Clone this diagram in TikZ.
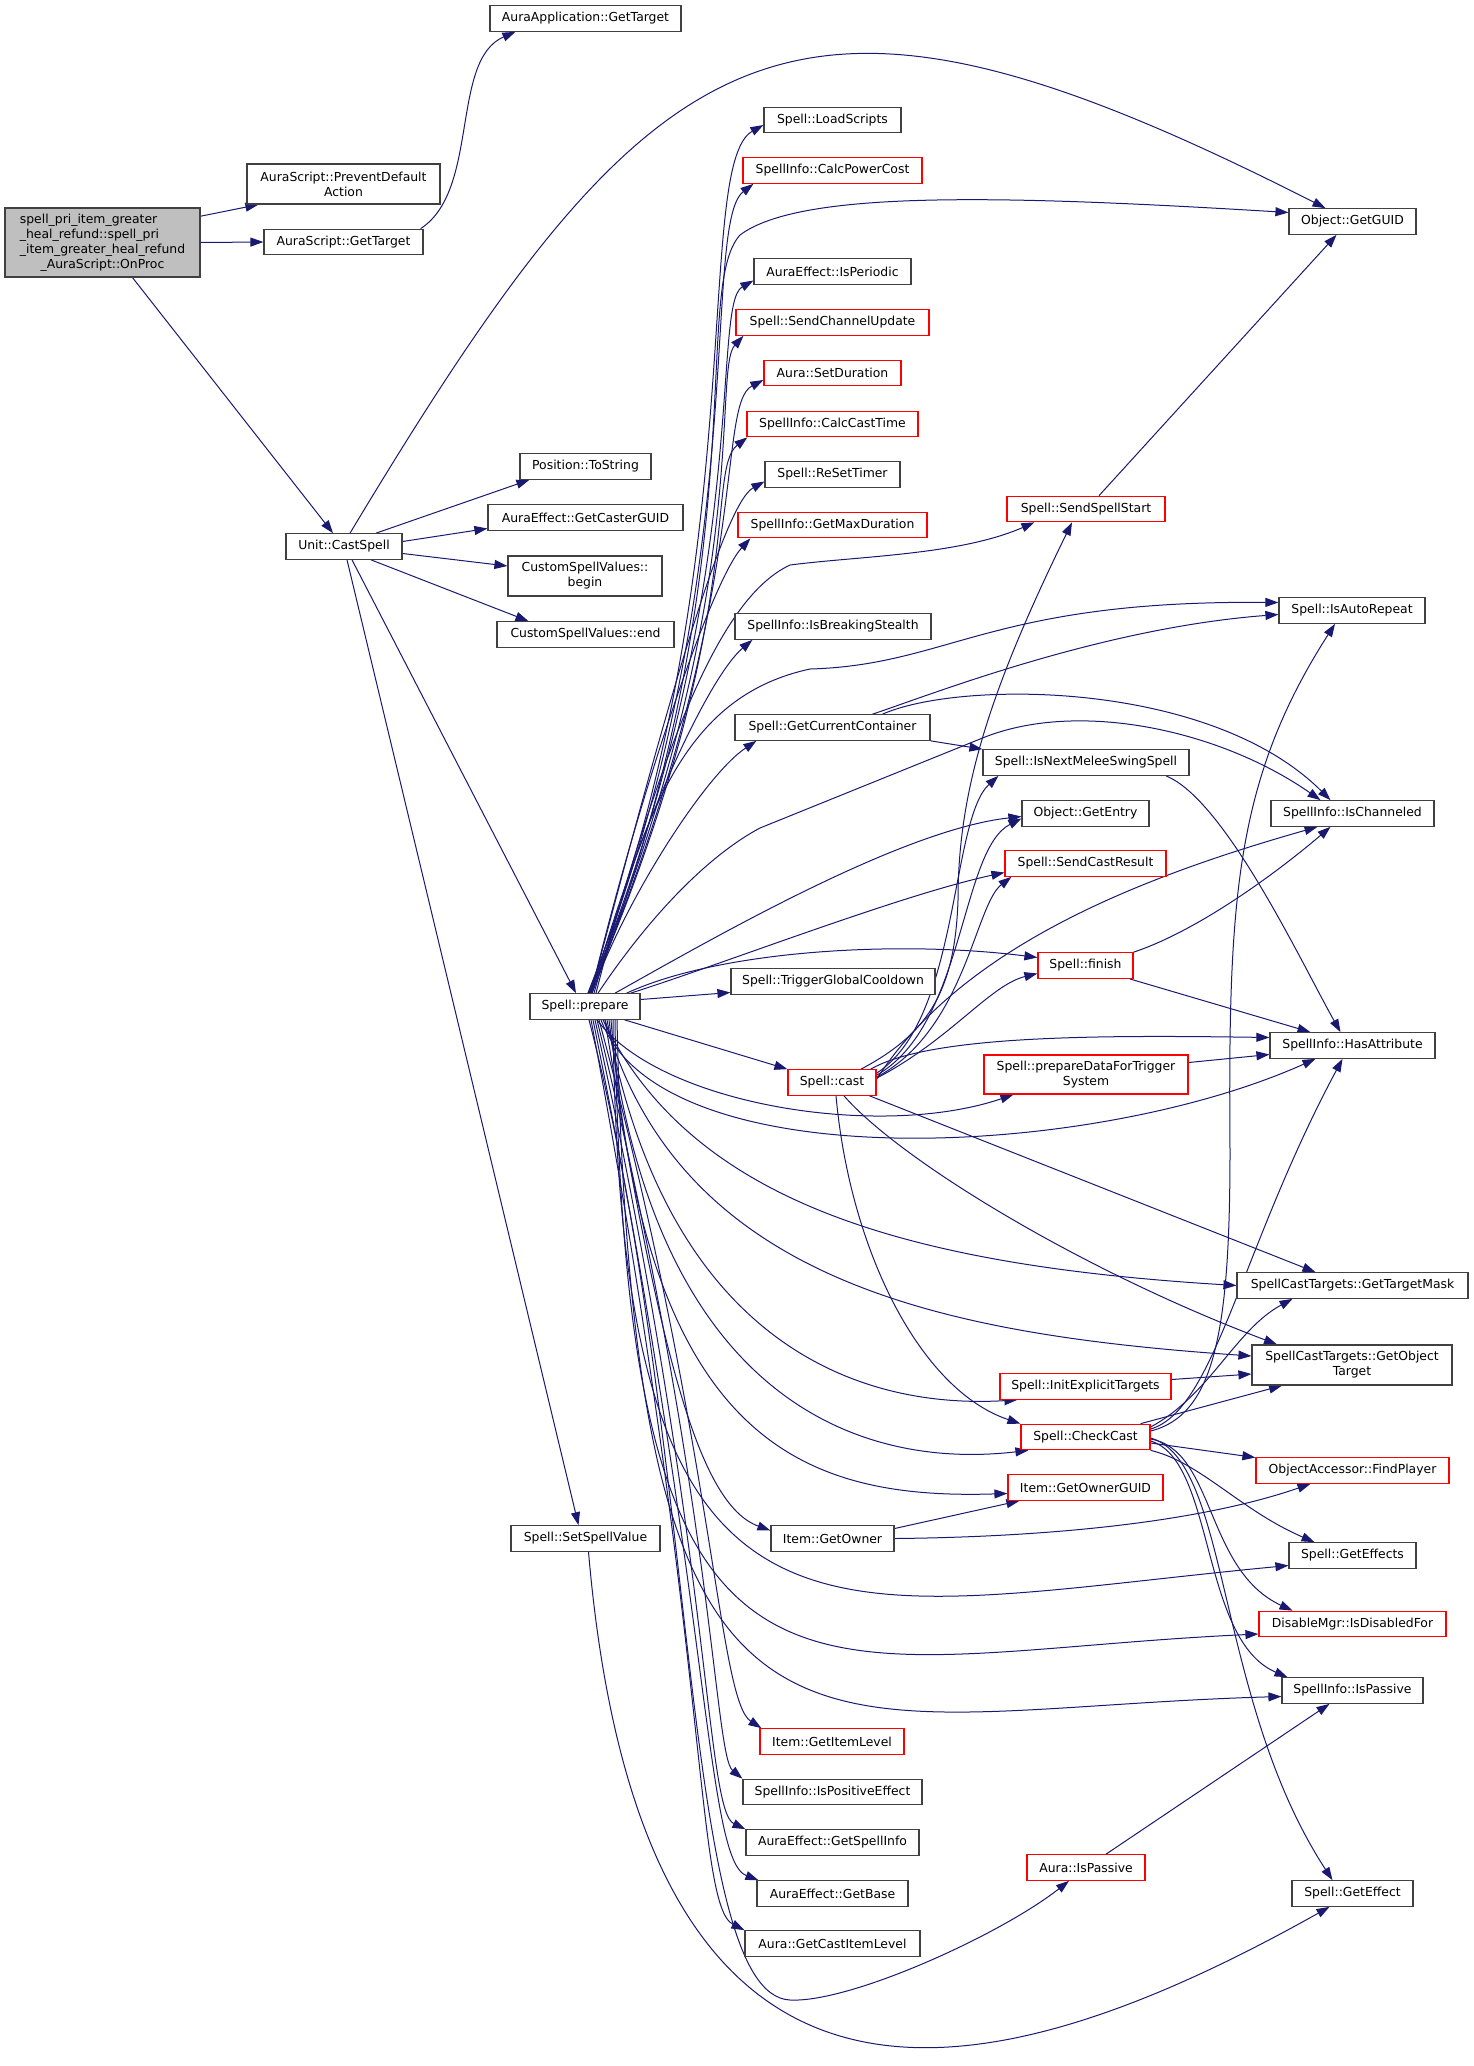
\documentclass[tikz,border=0pt]{standalone}
\usepackage{fontspec}
\setmainfont{DejaVu Sans}
\usetikzlibrary{arrows.meta}

\definecolor{edgeblue}{HTML}{191970}
\definecolor{boxgray}{HTML}{404040}
\definecolor{rootfill}{HTML}{BFBFBF}

\pgfdeclarelayer{edges}
\pgfsetlayers{edges,main}

\tikzset{
  fn/.style={draw=boxgray, line width=1.2pt, fill=white, inner sep=0pt,
    minimum height=25.5pt, align=center, font=\fontsize{12.4}{15}\selectfont},
  fnred/.style={fn, draw=red},
  rootfn/.style={fn, fill=rootfill},
  call/.style={draw=edgeblue, line width=1pt, -{Triangle[length=13pt,width=9pt]}}
}

\begin{document}
\begin{tikzpicture}[x=1pt, y=1pt]

\useasboundingbox (0,0) rectangle (1473,-2066);

% caller
\node[rootfn, minimum width=195pt, minimum height=69pt] (onproc) at (102.5,-242.5)
  {\begin{tabular}{@{}l@{}}spell\_pri\_item\_greater\\\_heal\_refund::spell\_pri\\\_item\_greater\_heal\_refund\\\multicolumn{1}{@{}c@{}}{\_AuraScript::OnProc}\end{tabular}};

% second column
\node[fn, minimum width=193pt, minimum height=40pt] (prevent) at (343.5,-184) {AuraScript::PreventDefault\\Action};
\node[fn, minimum width=159pt] (asgettarget) at (343.5,-242) {AuraScript::GetTarget};
\node[fn, minimum width=116pt] (castspell) at (344,-546.5) {Unit::CastSpell};

% third column
\node[fn, minimum width=191pt] (aagettarget) at (585.5,-18.5) {AuraApplication::GetTarget};
\node[fn, minimum width=131pt] (tostring) at (585.5,-466.5) {Position::ToString};
\node[fn, minimum width=195pt] (castergui) at (585.5,-517.5) {AuraEffect::GetCasterGUID};
\node[fn, minimum width=154pt, minimum height=40pt] (csvbegin) at (585,-576) {CustomSpellValues::\\begin};
\node[fn, minimum width=177pt] (csvend) at (585.5,-634.5) {CustomSpellValues::end};
\node[fn, minimum width=110pt] (prepare) at (585,-1006.5) {Spell::prepare};
\node[fn, minimum width=149pt] (setspellvalue) at (585.5,-1538.5) {Spell::SetSpellValue};

% fourth column
\node[fn, minimum width=137pt] (loadscripts) at (832.5,-120) {Spell::LoadScripts};
\node[fnred, minimum width=179pt] (calcpower) at (832.5,-170.5) {SpellInfo::CalcPowerCost};
\node[fn, minimum width=157pt] (isperiodic) at (832.5,-271.5) {AuraEffect::IsPeriodic};
\node[fnred, minimum width=193pt] (sendchannel) at (832.5,-322.5) {Spell::SendChannelUpdate};
\node[fnred, minimum width=137pt] (setduration) at (832.5,-373) {Aura::SetDuration};
\node[fnred, minimum width=171pt] (calccast) at (832.5,-424) {SpellInfo::CalcCastTime};
\node[fn, minimum width=135pt] (resettimer) at (832.5,-474.5) {Spell::ReSetTimer};
\node[fnred, minimum width=189pt] (maxduration) at (832.5,-525) {SpellInfo::GetMaxDuration};
\node[fn, minimum width=196pt] (breakingstealth) at (833,-626.5) {SpellInfo::IsBreakingStealth};
\node[fn, minimum width=195pt] (currentcontainer) at (832.5,-727.5) {Spell::GetCurrentContainer};
\node[fn, minimum width=204pt] (triggergcd) at (833,-981.5) {Spell::TriggerGlobalCooldown};
\node[fnred, minimum width=88pt] (cast) at (832,-1082.5) {Spell::cast};
\node[fn, minimum width=123pt] (getowner) at (832.5,-1538.5) {Item::GetOwner};
\node[fnred, minimum width=144pt] (getitemlevel) at (832,-1741.5) {Item::GetItemLevel};
\node[fn, minimum width=179pt] (ispositive) at (832.5,-1792) {SpellInfo::IsPositiveEffect};
\node[fn, minimum width=173pt] (aegetspellinfo) at (832.5,-1842.5) {AuraEffect::GetSpellInfo};
\node[fn, minimum width=151pt] (aegetbase) at (832.5,-1893.5) {AuraEffect::GetBase};
\node[fn, minimum width=175pt] (getcastitemlevel) at (832.5,-1943.5) {Aura::GetCastItemLevel};

% fifth column
\node[fnred, minimum width=158pt] (sendspellstart) at (1086,-509) {Spell::SendSpellStart};
\node[fn, minimum width=206pt] (isnextmelee) at (1086,-762.5) {Spell::IsNextMeleeSwingSpell};
\node[fn, minimum width=127pt] (getentry) at (1085.5,-813.5) {Object::GetEntry};
\node[fnred, minimum width=161pt] (sendcastresult) at (1085.5,-863.5) {Spell::SendCastResult};
\node[fnred, minimum width=95pt] (finish) at (1085.5,-965.5) {Spell::finish};
\node[fnred, minimum width=204pt, minimum height=39pt] (preparedata) at (1086,-1074.5) {Spell::prepareDataForTrigger\\System};
\node[fnred, minimum width=171pt] (initexplicit) at (1085.5,-1386.5) {Spell::InitExplicitTargets};
\node[fnred, minimum width=129pt] (checkcast) at (1085.5,-1437) {Spell::CheckCast};
\node[fnred, minimum width=155pt] (getownerguid) at (1085.5,-1487.5) {Item::GetOwnerGUID};
\node[fnred, minimum width=118pt] (auraispassive) at (1086,-1867.5) {Aura::IsPassive};

% sixth column
\node[fn, minimum width=127pt] (objguid) at (1352.5,-221.5) {Object::GetGUID};
\node[fn, minimum width=146pt] (isautorepeat) at (1352,-610.5) {Spell::IsAutoRepeat};
\node[fn, minimum width=163pt] (ischanneled) at (1352.5,-813.5) {SpellInfo::IsChanneled};
\node[fn, minimum width=165pt] (hasattribute) at (1352.5,-1045.5) {SpellInfo::HasAttribute};
\node[fn, minimum width=231pt] (gettargetmask) at (1352.5,-1285.5) {SpellCastTargets::GetTargetMask};
\node[fn, minimum width=200pt, minimum height=40pt] (getobjecttarget) at (1352,-1365) {SpellCastTargets::GetObject\\Target};
\node[fnred, minimum width=193pt] (findplayer) at (1352.5,-1470.5) {ObjectAccessor::FindPlayer};
\node[fn, minimum width=127pt] (geteffects) at (1352.5,-1555.5) {Spell::GetEffects};
\node[fnred, minimum width=187pt] (isdisabled) at (1352.5,-1624) {DisableMgr::IsDisabledFor};
\node[fn, minimum width=141pt] (sispassive) at (1352.5,-1690.5) {SpellInfo::IsPassive};
\node[fn, minimum width=121pt] (geteffect) at (1352.5,-1893.5) {Spell::GetEffect};

\begin{pgfonlayer}{edges}
% calls of OnProc
\draw[call] (onproc.15) -- ([xshift=12pt]prevent.south west);
\draw[call] (onproc.east) -- (asgettarget.west);
\draw[call] ([xshift=30pt]onproc.south) -- ([xshift=-11pt]castspell.north);
\draw[call] ([xshift=-3pt]asgettarget.north east) .. controls (480,-190) and (450,-60) .. ([xshift=26pt]aagettarget.south west);

% calls of Unit::CastSpell
\draw[call] ([xshift=6pt]castspell.north) .. controls (660,-17) and (788,65) .. ([xshift=-27pt]objguid.north);
\draw[call] ([xshift=32pt]castspell.north) -- ([xshift=10pt]tostring.south west);
\draw[call] ([yshift=5pt]castspell.east) -- ([yshift=-11pt]castergui.west);
\draw[call] ([yshift=-7pt]castspell.east) -- ([yshift=10pt]csvbegin.west);
\draw[call] ([xshift=27pt]castspell.south) -- ([xshift=-57pt]csvend.north);
\draw[call] ([xshift=8pt]castspell.south) -- ([xshift=-9pt]prepare.north);
\draw[call] ([xshift=3pt]castspell.south) -- ([xshift=-7pt]setspellvalue.north);
\draw[call] ([xshift=3pt]setspellvalue.south) .. controls (640,-2150) and (950,-2120) .. ([xshift=-23pt]geteffect.south);

% calls of Spell::prepare, upwards
\draw[call] ([xshift=3pt]prepare.north) .. controls (755,-570) and (692,-165) .. ([yshift=-5pt]loadscripts.west);
\draw[call] ([xshift=3pt]prepare.north) .. controls (755,-575) and (700,-225) .. ([xshift=11pt]calcpower.south west);
\draw[call] ([xshift=4pt]prepare.north) .. controls (755,-585) and (710,-305) .. ([yshift=-9pt]isperiodic.west);
\draw[call] ([xshift=4pt]prepare.north) .. controls (755,-595) and (712,-370) .. ([xshift=8pt]sendchannel.south west);
\draw[call] ([xshift=5pt]prepare.north) .. controls (755,-600) and (715,-405) .. ([yshift=-7pt]setduration.west);
\draw[call] ([xshift=5pt]prepare.north) .. controls (750,-620) and (705,-470) .. ([xshift=1pt]calccast.south west);
\draw[call] ([xshift=6pt]prepare.north) .. controls (660,-730) and (722,-505) .. ([yshift=-7pt]resettimer.west);
\draw[call] ([xshift=6pt]prepare.north) .. controls (640,-790) and (712,-580) .. ([xshift=13pt]maxduration.south west);
\draw[call] ([xshift=7pt]prepare.north) .. controls (630,-850) and (705,-680) .. ([xshift=18pt]breakingstealth.south west);
\draw[call] ([xshift=7pt]prepare.north) .. controls (625,-900) and (705,-775) .. ([xshift=22pt]currentcontainer.south west);
\draw[call] ([xshift=7pt]prepare.north) .. controls (760,-560) and (690,-290) .. (740,-235)
  .. controls (800,-190) and (1000,-195) .. ([yshift=9pt]objguid.west);
\draw[call] ([xshift=9pt]prepare.north) .. controls (660,-760) and (715,-600) .. (790,-565)
  .. controls (860,-556) and (960,-555) .. ([xshift=28pt]sendspellstart.south west);
\draw[call] ([xshift=11pt]prepare.north) .. controls (645,-800) and (690,-695) .. (810,-669)
  .. controls (950,-665) and (990,-600) .. ([yshift=8pt]isautorepeat.west);
\draw[call] ([xshift=13pt]prepare.north) .. controls (640,-930) and (700,-860) .. (760,-828)
  -- (985,-737) .. controls (1080,-700) and (1220,-730) .. ([xshift=-32pt]ischanneled.north);
\draw[call] ([xshift=30pt]prepare.north) .. controls (710,-940) and (900,-830) .. ([yshift=-3pt]getentry.west);
\draw[call] ([xshift=-10pt]prepare.north east) .. controls (720,-965) and (900,-895) .. ([yshift=-9pt]sendcastresult.west);
\draw[call] ([xshift=-14pt]prepare.north east) .. controls (720,-950) and (900,-940) .. ([yshift=8pt]finish.west);
\draw[call] ([yshift=7pt]prepare.east) -- ([yshift=-11pt]triggergcd.west);
\draw[call] ([xshift=-16pt]prepare.south east) -- (cast.north west);

% calls of Spell::prepare, downwards
\draw[call] ([xshift=12pt]prepare.south) .. controls (660,-1105) and (880,-1140) .. ([xshift=30pt]preparedata.south west);
\draw[call] ([xshift=16pt]prepare.south) .. controls (660,-1180) and (1090,-1160) .. ([xshift=-37pt]hasattribute.south);
\draw[call] ([xshift=18pt]prepare.south) .. controls (690,-1200) and (900,-1265) .. (gettargetmask.west);
\draw[call] ([xshift=20pt]prepare.south) .. controls (680,-1285) and (950,-1335) .. ([yshift=9pt]getobjecttarget.west);
\draw[call] ([xshift=22pt]prepare.south) .. controls (665,-1335) and (850,-1410) .. ([xshift=18pt]initexplicit.south west);
\draw[call] ([xshift=24pt]prepare.south) .. controls (655,-1400) and (860,-1470) .. ([xshift=8pt]checkcast.south west);
\draw[call] ([xshift=26pt]prepare.south) .. controls (645,-1440) and (800,-1500) .. ([yshift=-6pt]getownerguid.west);
\draw[call] ([xshift=20pt]prepare.south) .. controls (660,-1360) and (700,-1505) .. ([yshift=8pt]getowner.west);
\draw[call] ([xshift=28pt]prepare.south) .. controls (620,-1700) and (820,-1610) .. ([yshift=-10pt]geteffects.west);
\draw[call] ([xshift=30pt]prepare.south) .. controls (625,-1780) and (800,-1655) .. ([yshift=-10pt]isdisabled.west);
\draw[call] ([xshift=32pt]prepare.south) .. controls (635,-1840) and (800,-1710) .. ([yshift=-6pt]sispassive.west);
\draw[call] ([xshift=14pt]prepare.south) .. controls (715,-1450) and (718,-1700) .. ([xshift=2pt]getitemlevel.north west);
\draw[call] ([xshift=12pt]prepare.south) .. controls (714,-1500) and (714,-1755) .. (ispositive.north west);
\draw[call] ([xshift=10pt]prepare.south) .. controls (712,-1550) and (705,-1810) .. (aegetspellinfo.north west);
\draw[call] ([xshift=8pt]prepare.south) .. controls (711,-1600) and (705,-1860) .. ([xshift=2pt]aegetbase.north west);
\draw[call] ([xshift=6pt]prepare.south) .. controls (710,-1650) and (695,-1905) .. (getcastitemlevel.north west);
\draw[call] ([xshift=4pt]prepare.south) .. controls (700,-1450) and (680,-1995) .. (790,-2000)
  .. controls (850,-2003) and (1000,-1935) .. ([xshift=-17pt]auraispassive.south);

% calls of Spell::cast
\draw[call] ([xshift=29pt]cast.north) .. controls (925,-1035) and (955,-995) .. (958,-900)
  .. controls (958,-790) and (990,-690) .. ([xshift=-14pt]sendspellstart.south);
\draw[call] ([yshift=-4pt]cast.north east) .. controls (960,-1020) and (950,-820) .. ([xshift=16pt]isnextmelee.south west);
\draw[call] ([yshift=-6pt]cast.north east) .. controls (965,-1025) and (960,-850) .. ([yshift=-5pt]getentry.west);
\draw[call] ([yshift=-8pt]cast.north east) .. controls (965,-1030) and (975,-905) .. ([xshift=7pt]sendcastresult.south west);
\draw[call] ([yshift=-10pt]cast.north east) .. controls (960,-950) and (1130,-880) .. ([xshift=-35pt]ischanneled.south);
\draw[call] ([yshift=-9pt]cast.north east) .. controls (950,-1040) and (990,-985) .. ([yshift=-8pt]finish.west);
\draw[call] ([xshift=-6pt]cast.north east) .. controls (930,-1035) and (1100,-1035) .. ([yshift=8pt]hasattribute.west);
\draw[call] ([xshift=-7pt]cast.south east) -- ([xshift=-37pt]gettargetmask.north);
\draw[call] ([xshift=12pt]cast.south) .. controls (900,-1160) and (1080,-1270) .. ([xshift=-75pt]getobjecttarget.north);
\draw[call] ([xshift=4pt]cast.south) .. controls (850,-1250) and (920,-1390) .. (checkcast.north west);

% other calls
\draw[call] ([xshift=40pt]currentcontainer.north) .. controls (930,-695) and (1100,-628) .. ([yshift=-4pt]isautorepeat.west);
\draw[call] ([xshift=50pt]currentcontainer.north) .. controls (960,-680) and (1210,-680) .. ([xshift=-22pt]ischanneled.north);
\draw[call] (currentcontainer.south east) -- (isnextmelee.north west);
\draw[call] ([xshift=80pt]isnextmelee.south) .. controls (1225,-800) and (1300,-960) .. ([xshift=-12pt]hasattribute.north);
\draw[call] (finish.north east) .. controls (1200,-930) and (1280,-870) .. ([xshift=-22pt]ischanneled.south);
\draw[call] ([xshift=-4pt]finish.south east) -- ([xshift=-42pt]hasattribute.north);
\draw[call] ([xshift=13pt]sendspellstart.north) -- ([xshift=-16pt]objguid.south);
\draw[call] ([yshift=12pt]preparedata.east) -- ([yshift=-9pt]hasattribute.west);
\draw[call] ([yshift=7pt]initexplicit.east) -- ([yshift=-9pt]getobjecttarget.west);

% calls of Spell::CheckCast
\draw[call] ([yshift=6pt]checkcast.east) .. controls (1215,-1415) and (1230,-1330) .. (1230,-1150)
  .. controls (1228,-900) and (1235,-780) .. ([xshift=-17pt]isautorepeat.south);
\draw[call] ([yshift=8pt]checkcast.east) .. controls (1215,-1410) and (1240,-1250) .. ([xshift=-10pt]hasattribute.south);
\draw[call] ([yshift=10pt]checkcast.east) .. controls (1210,-1395) and (1235,-1330) .. ([xshift=-60pt]gettargetmask.south);
\draw[call] ([xshift=-10pt]checkcast.north east) -- ([xshift=-70pt]getobjecttarget.south);
\draw[call] ([yshift=-6pt]checkcast.east) -- ([yshift=13pt]findplayer.west);
\draw[call] (checkcast.south east) .. controls (1200,-1462) and (1240,-1510) .. ([xshift=-38pt]geteffects.north);
\draw[call] ([yshift=-2pt]checkcast.east) .. controls (1215,-1450) and (1205,-1570) .. ([xshift=-60pt]isdisabled.north);
\draw[call] ([yshift=-4pt]checkcast.east) .. controls (1215,-1460) and (1200,-1640) .. ([xshift=-65pt]sispassive.north);
\draw[call] ([yshift=-1pt]checkcast.east) .. controls (1230,-1460) and (1215,-1700) .. ([xshift=-20pt]geteffect.north);

% calls of Item::GetOwner and Aura::IsPassive
\draw[call] ([yshift=10pt]getowner.east) -- ([xshift=12pt]getownerguid.south west);
\draw[call] (getowner.east) .. controls (1050,-1537) and (1200,-1522) .. ([xshift=-42pt]findplayer.south);
\draw[call] ([xshift=20pt]auraispassive.north) -- ([xshift=-23pt]sispassive.south);
\end{pgfonlayer}

\end{tikzpicture}
\end{document}
